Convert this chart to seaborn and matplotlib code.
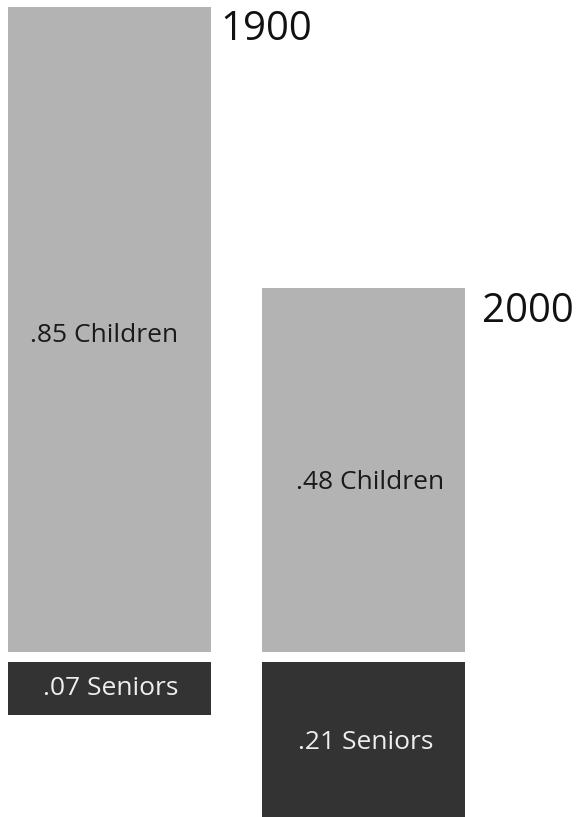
import matplotlib
matplotlib.use("Agg")
import matplotlib.pyplot as plt
import seaborn as sns

years = ["1900", "2000"]
children = [0.85, 0.48]
seniors = [0.07, 0.21]
children_labels = [".85 Children", ".48 Children"]
senior_labels = [".07 Seniors", ".21 Seniors"]

light = "#b3b3b3"
dark = "#333333"

# small hand nudges (points) for the text, as placed in the original
year_nudge = [(7, -1.5), (12, -3)]
child_nudge = [(-4, -4), (4.5, -9)]
senior_nudge = [(1, 0), (1.5, -0.5)]

sns.set_style("white")
plt.rcParams["font.family"] = ["Open Sans", "DejaVu Sans"]

W, H = 579, 817
px_per_unit = 758.8   # pixels for a share of 1.0
base_px = 652         # baseline of the children bars (from top)
gap_px = 10

fig = plt.figure(figsize=(W / 100, H / 100), dpi=100)
ax_top = fig.add_axes([0, (H - base_px) / H, 1, base_px / H])
bot_px = H - base_px - gap_px
ax_bot = fig.add_axes([0, 0, 1, bot_px / H])

sns.barplot(x=years, y=children, color=light, saturation=1, width=0.8,
            linewidth=0, ax=ax_top)
sns.barplot(x=years, y=seniors, color=dark, saturation=1, width=0.8,
            linewidth=0, ax=ax_bot)

xlim = (-109.5 / 254, (W - 109.5) / 254)
for ax in (ax_top, ax_bot):
    ax.set_xlim(*xlim)
    ax.set_axis_off()
ax_top.set_ylim(0, base_px / px_per_unit)
ax_bot.set_ylim(bot_px / px_per_unit, 0)

for i, (yr, v) in enumerate(zip(years, children)):
    ax_top.annotate(yr, xy=(i + 0.4, v), xytext=year_nudge[i],
                    textcoords="offset points", ha="left", va="top",
                    fontsize=29, color="#111111")
    ax_top.annotate(children_labels[i], xy=(i, v / 2), xytext=child_nudge[i],
                    textcoords="offset points", ha="center", va="center",
                    fontsize=19, color="#1a1a1a")

for i, v in enumerate(seniors):
    ax_bot.annotate(senior_labels[i], xy=(i, v / 2), xytext=senior_nudge[i],
                    textcoords="offset points", ha="center", va="center",
                    fontsize=19, color="#eeeeee")

fig.savefig("out.png", dpi=100)
